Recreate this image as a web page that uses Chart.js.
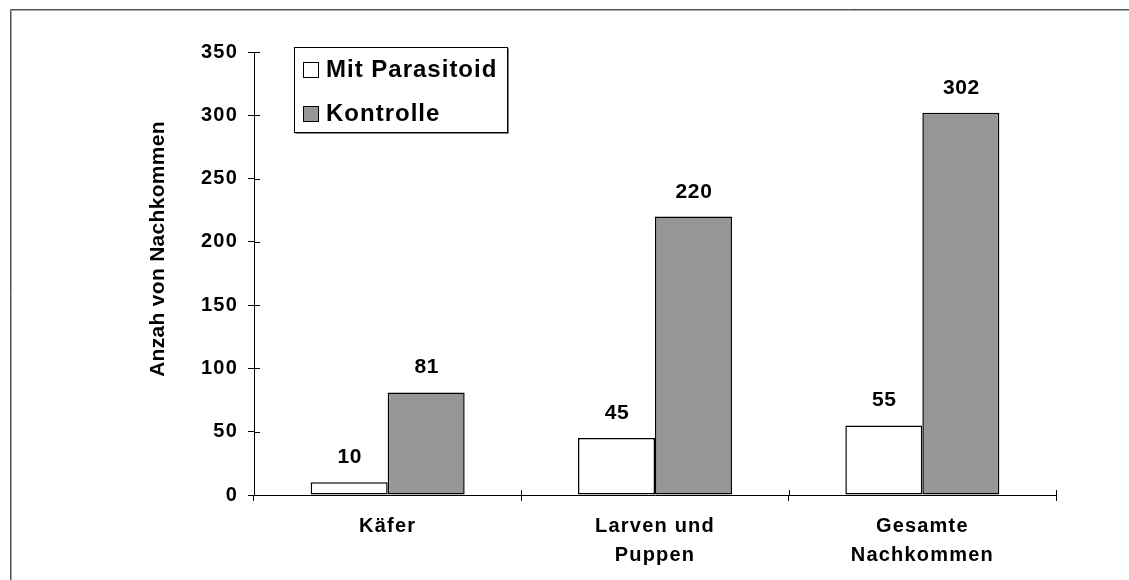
<!DOCTYPE html>
<html><head><meta charset="utf-8">
<script src="https://cdn.jsdelivr.net/npm/chart.js@4"></script>
<style>html,body{margin:0;padding:0;background:#fff;overflow:hidden}</style>
</head><body>
<canvas id="c" width="1129" height="580" style="width:1129px;height:580px;display:block"></canvas>
<script>
const categories = [['Käfer'], ['Larven und', 'Puppen'], ['Gesamte', 'Nachkommen']];
const seriesNames = ['Mit Parasitoid', 'Kontrolle'];
const mitParasitoid = [10, 45, 55];
const kontrolle = [81, 220, 302];
const yTicks = [0, 50, 100, 150, 200, 250, 300, 350];
const yTitle = 'Anzah von Nachkommen';

const FONT = '"Liberation Sans", Arial, sans-serif';
const colors = ['#ffffff', '#969696'];

const spacingPlugin = {
  id: 'spacing',
  beforeLayout(chart) { chart.ctx.letterSpacing = '1.2px'; },
  beforeDraw(chart) { chart.ctx.letterSpacing = '1.2px'; }
};

const framePlugin = {
  id: 'frame',
  beforeDraw(chart) {
    const ctx = chart.ctx;
    ctx.save();
    ctx.lineWidth = 1;
    ctx.strokeStyle = '#505050';
    ctx.beginPath();
    ctx.moveTo(10.5, 580); ctx.lineTo(10.5, 9.5); ctx.lineTo(1129, 9.5);
    ctx.stroke();
    ctx.strokeStyle = '#a8a8a8';
    ctx.beginPath();
    ctx.moveTo(11.5, 580); ctx.lineTo(11.5, 10.5); ctx.lineTo(1129, 10.5);
    ctx.stroke();
    ctx.restore();
  }
};

const extrasPlugin = {
  id: 'extras',
  afterDraw(chart) {
    const ctx = chart.ctx;
    const xs = chart.scales.x, ys = chart.scales.y;
    ctx.save();
    // inner halves of tick marks
    ctx.strokeStyle = '#000';
    ctx.lineWidth = 1;
    ctx.beginPath();
    ys.ticks.forEach(t => {
      const py = Math.round(ys.getPixelForValue(t.value)) + 0.5;
      ctx.moveTo(xs.left, py); ctx.lineTo(xs.left + 6, py);
    });
    const n = xs.ticks.length;
    for (let i = 0; i <= n; i++) {
      const px = Math.round(xs.getPixelForValue(i - 0.5)) + 0.5;
      ctx.moveTo(px, ys.bottom - 5); ctx.lineTo(px, ys.bottom);
    }
    ctx.stroke();

    // value labels
    ctx.fillStyle = '#000';
    ctx.font = 'bold 21px ' + FONT;
    ctx.letterSpacing = '0.6px';
    ctx.textAlign = 'center';
    ctx.textBaseline = 'alphabetic';
    chart.data.datasets.forEach((ds, di) => {
      const meta = chart.getDatasetMeta(di);
      meta.data.forEach((el, i) => {
        ctx.fillText(String(ds.data[i]), el.x + 0.5, el.y - 19);
      });
    });

    // y-axis title
    ctx.save();
    ctx.translate(158, 249);
    ctx.rotate(-Math.PI / 2);
    ctx.font = 'bold 21px ' + FONT;
    ctx.letterSpacing = '0.3px';
    ctx.textAlign = 'center';
    ctx.textBaseline = 'middle';
    ctx.fillText(yTitle, 0, 0);
    ctx.restore();

    // legend
    const bx = 294.5, by = 47.5, bw = 213, bh = 85;
    ctx.fillStyle = '#fff';
    ctx.fillRect(bx, by, bw, bh);
    ctx.strokeStyle = '#808080';
    ctx.lineWidth = 1;
    ctx.beginPath();
    ctx.moveTo(bx + bw + 1, by + 1); ctx.lineTo(bx + bw + 1, by + bh + 1); ctx.lineTo(bx + 1, by + bh + 1);
    ctx.stroke();
    ctx.strokeStyle = '#000';
    ctx.strokeRect(bx, by, bw, bh);
    ctx.font = 'bold 24px ' + FONT;
    ctx.letterSpacing = '1px';
    ctx.textAlign = 'left';
    ctx.textBaseline = 'alphabetic';
    const rows = [{sy: 62.5, ty: 77}, {sy: 106.5, ty: 121}];
    chart.data.datasets.forEach((ds, di) => {
      const r = rows[di];
      ctx.fillStyle = ds.backgroundColor;
      ctx.fillRect(303.5, r.sy, 15, 15);
      ctx.strokeStyle = '#000';
      ctx.strokeRect(303.5, r.sy, 15, 15);
      ctx.fillStyle = '#000';
      ctx.fillText(ds.label, 326, r.ty);
    });
    ctx.restore();
  }
};

new Chart(document.getElementById('c'), {
  type: 'bar',
  data: {
    labels: categories,
    datasets: [
      { label: seriesNames[0], data: mitParasitoid, backgroundColor: colors[0], borderColor: '#000', borderWidth: 1.5, borderSkipped: false, categoryPercentage: 0.576, barPercentage: 1 },
      { label: seriesNames[1], data: kontrolle, backgroundColor: colors[1], borderColor: '#000', borderWidth: 1.5, borderSkipped: false, categoryPercentage: 0.576, barPercentage: 1 }
    ]
  },
  options: {
    responsive: false,
    animation: false,
    devicePixelRatio: 1,
    layout: { padding: { top: 52, right: 73, bottom: 0, left: 0 } },
    plugins: { legend: { display: false }, tooltip: { enabled: false } },
    scales: {
      x: {
        grid: { offset: true, drawOnChartArea: false, drawTicks: true, tickLength: 6, color: '#000', lineWidth: 1 },
        border: { display: true, color: '#000', width: 1 },
        ticks: { color: '#000', font: { family: FONT, size: 20, weight: 'bold', lineHeight: 29 / 20 }, padding: 11, maxRotation: 0, autoSkip: false },
        afterFit(s) { s.height = 85; }
      },
      y: {
        min: 0, max: 350,
        afterBuildTicks(s) { s.ticks = yTicks.map(v => ({ value: v })); },
        grid: { drawOnChartArea: false, drawTicks: true, tickLength: 6, color: '#000', lineWidth: 1 },
        border: { display: true, color: '#000', width: 1 },
        ticks: { color: '#000', font: { family: FONT, size: 20, weight: 'bold' }, padding: 10 },
        title: { display: false, text: yTitle },
        afterFit(s) { s.width = 254; }
      }
    }
  },
  plugins: [spacingPlugin, framePlugin, extrasPlugin]
});
</script>
</body></html>
